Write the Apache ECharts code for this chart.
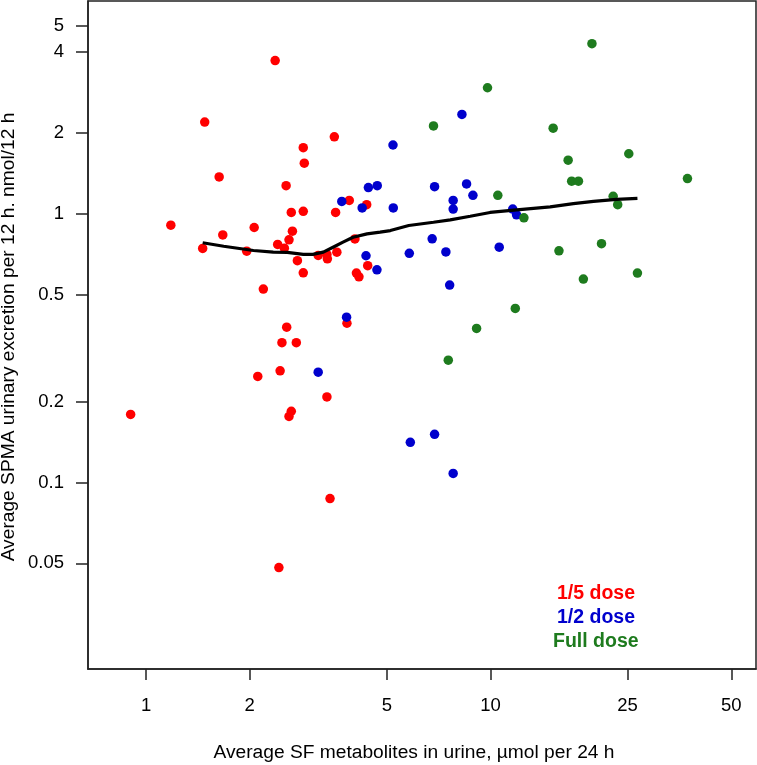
<!DOCTYPE html>
<html><head><meta charset="utf-8">
<script src="https://cdn.jsdelivr.net/npm/echarts@6/dist/echarts.min.js"></script>
<style>html,body{margin:0;padding:0;background:#fff}#c{width:757px;height:765px}</style>
</head><body><div id="c"></div>
<script>
const xTicks = [1, 2, 5, 10, 25, 50];
const yTicks = [0.05, 0.1, 0.2, 0.5, 1, 2, 4, 5];
const doseNames = ['1/5 dose', '1/2 dose', 'Full dose'];
const doseColors = ['#ff0000', '#0000cd', '#1e7b1e'];

// [SF metabolites, SPMA]
const fifthDose = [[2.37,3.71],[1.48,2.19],[3.52,1.93],[2.86,1.76],[2.88,1.54],[1.63,1.37],[2.55,1.27],[3.89,1.12],[4.37,1.08],[2.64,1.01],[2.86,1.02],[3.55,1.01],[1.18,0.906],[2.06,0.888],[2.66,0.860],[1.67,0.833],[2.60,0.799],[2.41,0.768],[2.52,0.744],[1.46,0.742],[1.96,0.725],[3.16,0.699],[3.35,0.705],[3.36,0.679],[3.58,0.719],[4.04,0.805],[2.75,0.668],[2.86,0.602],[4.08,0.601],[4.15,0.582],[4.40,0.640],[2.19,0.524],[3.83,0.391],[2.56,0.378],[2.48,0.331],[2.73,0.331],[2.45,0.260],[2.11,0.248],[0.902,0.179],[3.35,0.208],[2.64,0.184],[2.60,0.176],[3.42,0.0871],[2.43,0.0482]];
const halfDose = [[3.70,1.11],[4.24,1.05],[4.42,1.25],[4.69,1.27],[4.35,0.697],[4.68,0.618],[3.82,0.412],[3.16,0.257],[5.85,0.141],[6.88,0.151],[7.79,0.108],[8.26,2.34],[5.21,1.80],[6.88,1.26],[8.52,1.29],[8.89,1.17],[7.79,1.12],[7.79,1.04],[5.22,1.05],[11.6,1.04],[11.9,0.990],[6.77,0.806],[5.81,0.712],[7.42,0.720],[10.6,0.750],[7.61,0.542]];
const fullDose = [[19.7,4.29],[9.80,2.94],[6.83,2.12],[15.2,2.08],[25.2,1.67],[16.8,1.58],[17.2,1.32],[18.0,1.32],[37.3,1.35],[10.5,1.17],[22.7,1.16],[23.4,1.08],[12.5,0.965],[21.0,0.773],[15.8,0.727],[18.6,0.571],[26.7,0.601],[11.8,0.444],[9.11,0.374],[7.54,0.285]];
const loessCurve = [[1.46,0.779],[1.68,0.756],[2.05,0.729],[2.34,0.719],[2.57,0.717],[2.86,0.705],[3.05,0.705],[3.27,0.719],[3.49,0.750],[3.73,0.783],[3.99,0.817],[4.38,0.841],[4.78,0.853],[5.12,0.865],[5.79,0.903],[6.83,0.929],[7.64,0.948],[8.73,0.978],[9.97,1.01],[11.7,1.03],[14.9,1.06],[17.4,1.09],[19.9,1.11],[23.2,1.13],[26.7,1.14]];

const xTitle = 'Average SF metabolites in urine, \u00b5mol per 24 h';
const yTitle = 'Average SPMA urinary excretion per 12 h. nmol/12 h';

const FONT = 'Liberation Sans, Arial, sans-serif';
const AX = '#222';
const fmt = v => String(+(+v).toPrecision(3));

const chart = echarts.init(document.getElementById('c'), null, {renderer: 'canvas'});
const seriesData = [fifthDose, halfDose, fullDose];

chart.setOption({
  animation: false,
  backgroundColor: '#fff',
  grid: {left: 88, top: 1, width: 668, height: 668, show: true, borderColor: AX, borderWidth: 1.5, backgroundColor: 'transparent', containLabel: false},
  xAxis: {
    type: 'log', logBase: 10, min: 0.6783, max: 58.98,
    axisLine: {show: true, onZero: false, lineStyle: {color: AX, width: 1.5}},
    axisTick: {show: true, length: 11, customValues: xTicks, lineStyle: {color: AX, width: 1.5}},
    axisLabel: {show: true, customValues: xTicks, margin: 27, fontSize: 18.5, fontFamily: FONT, color: '#000', formatter: fmt},
    splitLine: {show: false}, minorTick: {show: false}
  },
  yAxis: {
    type: 'log', logBase: 10, min: 0.020222, max: 6.181,
    axisLine: {show: true, onZero: false, lineStyle: {color: AX, width: 1.5}},
    axisTick: {show: true, length: 12, customValues: yTicks, lineStyle: {color: AX, width: 1.5}},
    axisLabel: {show: true, customValues: yTicks, margin: 24, fontSize: 18.5, fontFamily: FONT, color: '#000', formatter: fmt},
    splitLine: {show: false}, minorTick: {show: false}
  },
  legend: {
    orient: 'vertical', left: 543, top: 579, itemWidth: 0, itemHeight: 0, itemGap: 4,
    selectedMode: false,
    textStyle: {fontSize: 19.5, fontWeight: 'bold', fontFamily: FONT},
    data: doseNames.map((n, i) => ({name: n, icon: 'none', textStyle: {color: doseColors[i], padding: i < 2 ? [0, 0, 0, 4] : 0}}))
  },
  graphic: [
    {type: 'text', x: 414, y: 753, style: {text: xTitle, fontSize: 19.2, fontFamily: FONT, fill: '#000', align: 'center', verticalAlign: 'middle'}},
    {type: 'text', x: 9, y: 337, rotation: Math.PI / 2, style: {text: yTitle, fontSize: 19.2, fontFamily: FONT, fill: '#000', align: 'center', verticalAlign: 'middle'}}
  ],
  series: [
    ...seriesData.map((d, i) => ({
      name: doseNames[i], type: 'scatter', data: d, symbol: 'circle', symbolSize: 9.5,
      itemStyle: {color: doseColors[i], opacity: 1}, z: 2 + i * 0.1
    })),
    {type: 'line', data: loessCurve, showSymbol: false, symbol: 'none', smooth: false,
     lineStyle: {color: '#000', width: 3.2}, z: 5, silent: true}
  ]
});
</script></body></html>
